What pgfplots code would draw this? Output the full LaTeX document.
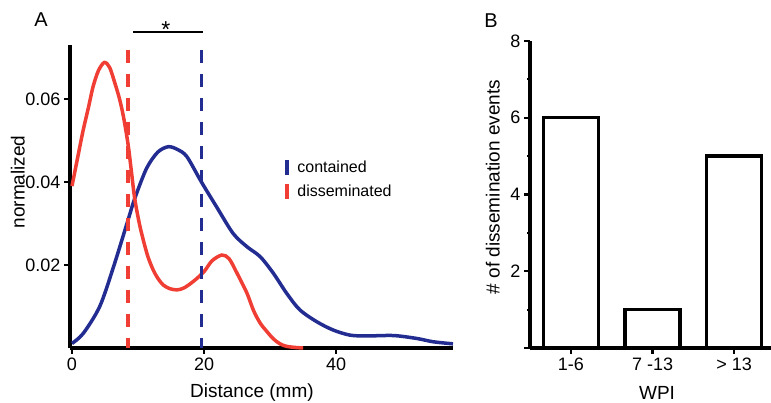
\documentclass[border=0pt]{standalone}
\usepackage{pgfplots}
\pgfplotsset{compat=1.18}
\usepackage{fontspec}
\setmainfont{Liberation Sans}
\definecolor{cred}{RGB}{240,62,52}
\definecolor{cblue}{RGB}{35,45,145}
\pgfplotsset{
  common/.style={
    scale only axis,
    axis x line=bottom, axis y line=left,
    axis line style={-, line width=3.5pt, black},
    tick align=outside, major tick length=6pt, minor tick length=3pt,
    tick style={black, line width=2.2pt},
    /pgf/number format/assume math mode=true,
    ticklabel style={font=\fontsize{18}{20}\selectfont},
    label style={font=\fontsize{19}{21}\selectfont},
    clip=false,
  }
}
\begin{document}
\begin{tikzpicture}[x=1pt,y=1pt]
\path[use as bounding box] (0,0) rectangle (771,403);
\node[font=\fontsize{20}{22}\selectfont] at (41,383) {A};
\node[font=\fontsize{20}{22}\selectfont] at (491,382) {B};
\begin{axis}[common,
  at={(70pt,55pt)}, anchor=south west, width=383pt, height=303pt,
  xmin=-0.3, xmax=57.7, ymin=0, ymax=0.073,
  xtick={0,20,40}, ytick={0.02,0.04,0.06},
  scaled y ticks=false,
  yticklabel style={/pgf/number format/fixed, /pgf/number format/precision=2},
  xlabel={Distance (mm)}, ylabel={normalized},
  xlabel style={at={(axis description cs:0.475,-0.147)}, anchor=center},
  ylabel style={at={(axis description cs:-0.136,0.548)}, anchor=center},
]
\addplot[cblue, line width=3.5pt, smooth] coordinates {
(0,0.0011) (1.7,0.0035) (4.2,0.010) (6.3,0.0196) (8.5,0.0309) (9.5,0.036)
(11.3,0.0433) (13,0.0472) (14.6,0.0485) (16,0.0478) (17.4,0.0461) (19.6,0.040)
(21.9,0.034) (24.4,0.0276) (26.5,0.0244) (28.5,0.022) (30.5,0.018) (32.5,0.0132)
(34.5,0.0092) (37.1,0.0063) (39.6,0.0043) (42.1,0.0031) (44.6,0.0029)
(48.7,0.0030) (52.2,0.0023) (54.7,0.0015) (57.7,0.0010)};
\addplot[cred, line width=3.5pt, smooth] coordinates {
(0,0.039) (1,0.047) (1.7,0.0525) (2.5,0.058) (3.2,0.063) (4,0.0668) (4.9,0.0688)
(5.7,0.0676) (6.5,0.0638) (7.2,0.060) (7.8,0.0557) (8.5,0.049) (9,0.0425)
(9.5,0.036) (10.2,0.030) (10.8,0.026) (11.5,0.022) (12.3,0.0188) (13,0.0168)
(13.8,0.0152) (14.8,0.0143) (15.9,0.0140) (17,0.0145) (18.5,0.0162) (20,0.0184)
(21.2,0.0210) (22.7,0.0224) (23.8,0.0215) (25,0.018) (26.5,0.0132) (27.5,0.009)
(28.5,0.006) (29.5,0.0040) (30.5,0.0022) (31.5,0.0010) (32.5,0.0004) (34,0.0001) (35,0)};
\addplot[cred, line width=3.5pt, dash pattern=on 13pt off 11pt] coordinates {(8.5,0.0718) (8.5,0)};
\addplot[cblue, line width=3.5pt, dash pattern=on 13pt off 11pt] coordinates {(19.6,0.0718) (19.6,0)};
\draw[black, line width=1.6pt] (axis cs:9.3,0.0762) -- (axis cs:19.9,0.0762);
\node[font=\fontsize{23}{25}\selectfont, anchor=base, inner sep=0pt] at (axis cs:14.2,0.0748) {*};
\draw[cblue, line width=4pt] (axis cs:32.6,0.0417) -- (axis cs:32.6,0.0453);
\draw[cred, line width=4pt] (axis cs:32.6,0.0359) -- (axis cs:32.6,0.0395);
\node[anchor=west, inner sep=0pt, font=\fontsize{16}{18}\selectfont] at (axis cs:34.1,0.0436) {contained};
\node[anchor=west, inner sep=0pt, font=\fontsize{16}{18}\selectfont] at (axis cs:34.1,0.0378) {disseminated};
\end{axis}
\begin{axis}[common,
  at={(530pt,55pt)}, anchor=south west, width=241pt, height=307pt,
  xmin=0.5, xmax=3.45, ymin=0, ymax=8,
  xtick={1,2,3}, xticklabels={1-6,7 -13,> 13},
  ytick={0,2,4,6,8}, yticklabels={,2,4,6,8}, minor ytick={1,3,5,7},
  xlabel={WPI}, ylabel={\# of dissemination events},
  xlabel style={at={(axis description cs:0.527,-0.147)}, anchor=center},
  ylabel style={at={(axis description cs:-0.154,0.524)}, anchor=center},
  ybar, bar width=55pt,
]
\addplot[fill=white, draw=black, line width=3.5pt] coordinates {(1,6) (2,1) (3,5)};
\end{axis}
\end{tikzpicture}
\end{document}
